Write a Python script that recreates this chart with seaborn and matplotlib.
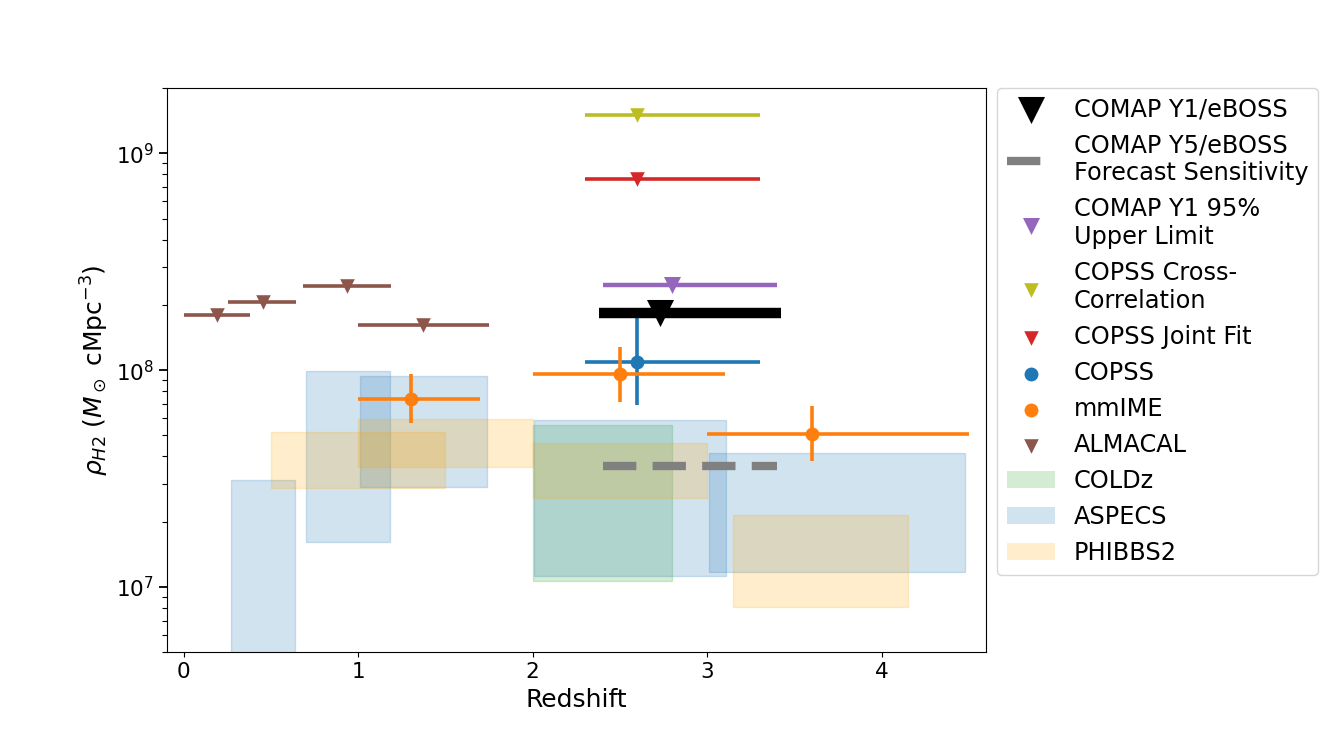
import numpy as np
import seaborn as sns
import matplotlib.pyplot as plt
from matplotlib.patches import Patch

# ALMACAL upper limits
almacal_z = [0.19, 0.455, 0.937, 1.373]
almacal_zlo = [0.0, 0.256, 0.681, 0.998]
almacal_zhi = [0.379, 0.643, 1.186, 1.748]
almacal_rho = [1.80e8, 2.07e8, 2.45e8, 1.62e8]

# mmIME measurements
mmime_z = [1.3, 2.5, 3.6]
mmime_zlo = [1.0, 2.0, 3.0]
mmime_zhi = [1.7, 3.1, 4.5]
mmime_rho = [7.4e7, 9.6e7, 5.1e7]
mmime_rho_lo = [5.7e7, 7.1e7, 3.8e7]
mmime_rho_hi = [9.6e7, 1.28e8, 6.8e7]

# COPSS
copss_z = [2.6]
copss_zlo = [2.3]
copss_zhi = [3.3]
copss_rho = [1.09e8]
copss_rho_lo = [6.9e7]
copss_rho_hi = [1.8e8]
copss_joint_rho = [7.6e8]
copss_cross_rho = [1.5e9]

# COMAP
comap95_z = [2.8]
comap95_zlo = [2.4]
comap95_zhi = [3.4]
comap95_rho = [2.48e8]
comap_eboss_z = [2.73]
comap_eboss_zlo = [2.38]
comap_eboss_zhi = [3.42]
comap_eboss_rho = [1.83e8]
forecast_z = [2.4, 3.4]
forecast_rho = [3.6e7, 3.6e7]

# survey boxes
coldz_zlo = [2.0]
coldz_zhi = [2.8]
coldz_lo = [1.07e7]
coldz_hi = [5.6e7]

aspecs_zlo = [0.27, 0.70, 1.01, 2.01, 3.01]
aspecs_zhi = [0.635, 1.18, 1.74, 3.11, 4.48]
aspecs_lo = [3.0e6, 1.62e7, 2.9e7, 1.13e7, 1.17e7]
aspecs_hi = [3.13e7, 9.9e7, 9.35e7, 5.9e7, 4.17e7]

phibbs_zlo = [0.5, 1.0, 2.0, 3.15]
phibbs_zhi = [1.5, 2.0, 3.0, 4.15]
phibbs_lo = [2.87e7, 3.58e7, 2.57e7, 8.1e6]
phibbs_hi = [5.17e7, 5.93e7, 4.64e7, 2.14e7]


def xerr_of(z, zlo, zhi):
    z = np.asarray(z)
    return [z - np.asarray(zlo), np.asarray(zhi) - z]


def draw_boxes(ax, zlo, zhi, lo, hi, color, label):
    for a, b, c, d in zip(zlo, zhi, lo, hi):
        ax.fill_between([a, b], c, d, color=color, alpha=0.2, zorder=0.5)
    return Patch(facecolor=color, alpha=0.2, label=label)


def marks(ax, z, rho, marker, s, color, label, zorder=3):
    sns.scatterplot(x=z, y=rho, marker=marker, s=s, color=color,
                    linewidth=0, label=label, zorder=zorder, ax=ax)


fig, ax = plt.subplots(figsize=(13.33, 7.33), dpi=100)
fig.subplots_adjust(left=0.125, right=0.74, bottom=0.11, top=0.88)

h_coldz = draw_boxes(ax, coldz_zlo, coldz_zhi, coldz_lo, coldz_hi, "tab:green", "COLDz")
h_aspecs = draw_boxes(ax, aspecs_zlo, aspecs_zhi, aspecs_lo, aspecs_hi, "tab:blue", "ASPECS")
h_phibbs = draw_boxes(ax, phibbs_zlo, phibbs_zhi, phibbs_lo, phibbs_hi, "orange", "PHIBBS2")

elw = 2.6

# ALMACAL
ax.errorbar(almacal_z, almacal_rho, xerr=xerr_of(almacal_z, almacal_zlo, almacal_zhi),
            fmt="none", ecolor="tab:brown", elinewidth=elw, zorder=2)
marks(ax, almacal_z, almacal_rho, "v", 110, "tab:brown", "ALMACAL")

# COPSS
ax.errorbar(copss_z, copss_rho, xerr=xerr_of(copss_z, copss_zlo, copss_zhi),
            yerr=[np.subtract(copss_rho, copss_rho_lo), np.subtract(copss_rho_hi, copss_rho)],
            fmt="none", ecolor="tab:blue", elinewidth=elw, zorder=2)
marks(ax, copss_z, copss_rho, "o", 100, "tab:blue", "COPSS")

# mmIME
ax.errorbar(mmime_z, mmime_rho, xerr=xerr_of(mmime_z, mmime_zlo, mmime_zhi),
            yerr=[np.subtract(mmime_rho, mmime_rho_lo), np.subtract(mmime_rho_hi, mmime_rho)],
            fmt="none", ecolor="tab:orange", elinewidth=elw, zorder=2)
marks(ax, mmime_z, mmime_rho, "o", 100, "tab:orange", "mmIME")

# COPSS joint fit and cross-correlation
ax.errorbar(copss_z, copss_joint_rho, xerr=xerr_of(copss_z, copss_zlo, copss_zhi),
            fmt="none", ecolor="tab:red", elinewidth=elw, zorder=2)
marks(ax, copss_z, copss_joint_rho, "v", 110, "tab:red", "COPSS Joint Fit")
ax.errorbar(copss_z, copss_cross_rho, xerr=xerr_of(copss_z, copss_zlo, copss_zhi),
            fmt="none", ecolor="tab:olive", elinewidth=elw, zorder=2)
marks(ax, copss_z, copss_cross_rho, "v", 110, "tab:olive", "COPSS Cross-\nCorrelation")

# COMAP Y1 95% upper limit
ax.errorbar(comap95_z, comap95_rho, xerr=xerr_of(comap95_z, comap95_zlo, comap95_zhi),
            fmt="none", ecolor="tab:purple", elinewidth=3.2, zorder=2)
marks(ax, comap95_z, comap95_rho, "v", 150, "tab:purple", "COMAP Y1 95%\nUpper Limit")

# COMAP Y1/eBOSS
ax.errorbar(comap_eboss_z, comap_eboss_rho,
            xerr=xerr_of(comap_eboss_z, comap_eboss_zlo, comap_eboss_zhi),
            fmt="none", ecolor="black", elinewidth=7.5, zorder=4)
marks(ax, comap_eboss_z, comap_eboss_rho, "v", 380, "black", "COMAP Y1/eBOSS", zorder=5)

# COMAP Y5 forecast
ax.plot(forecast_z, forecast_rho, color="grey", lw=6, dashes=(4, 1.95),
        solid_capstyle="butt", dash_capstyle="butt",
        label="COMAP Y5/eBOSS\nForecast Sensitivity", zorder=4)

ax.set_yscale("log")
ax.set_xlim(-0.098, 4.6)
ax.set_ylim(5e6, 2e9)
ax.set_xticks([0, 1, 2, 3, 4])
ax.set_xlabel("Redshift", fontsize=18)
ax.set_ylabel(r"$\rho_{H2}$ ($M_\odot$ cMpc$^{-3}$)", fontsize=18)
ax.tick_params(axis="both", which="major", labelsize=15.5)
ax.tick_params(axis="y", which="major", length=5.5, width=1.3)
ax.tick_params(axis="y", which="minor", length=3.4, width=0.8)

handles, labels = ax.get_legend_handles_labels()
lookup = dict(zip(labels, handles))
order = ["COMAP Y1/eBOSS", "COMAP Y5/eBOSS\nForecast Sensitivity",
         "COMAP Y1 95%\nUpper Limit", "COPSS Cross-\nCorrelation", "COPSS Joint Fit",
         "COPSS", "mmIME", "ALMACAL"]
leg_handles = [lookup[k] for k in order] + [h_coldz, h_aspecs, h_phibbs]
leg_labels = order + ["COLDz", "ASPECS", "PHIBBS2"]
ax.legend(leg_handles, leg_labels, loc="upper left", bbox_to_anchor=(1.013, 1.0),
          borderaxespad=0, fontsize=17.3)

fig.savefig("out.png", dpi=100)
